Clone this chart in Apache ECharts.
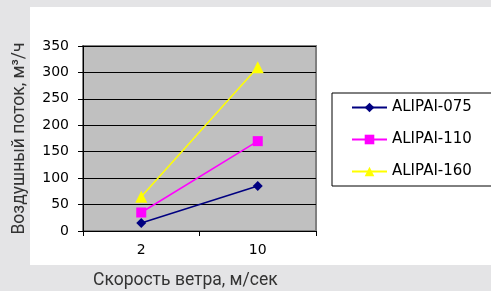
<!DOCTYPE html>
<html><head><meta charset="utf-8">
<script src="https://cdn.jsdelivr.net/npm/echarts@6/dist/echarts.min.js"></script>
<style>html,body{margin:0;padding:0;background:#e4e4e6;}#c{width:491px;height:291px;}</style>
</head><body><div id="c"></div>
<script>
const categories = ['2', '10'];
const seriesNames = ['ALIPAI-075', 'ALIPAI-110', 'ALIPAI-160'];
const alipai075 = [15, 85];
const alipai110 = [35, 170];
const alipai160 = [65, 310];
const yTicks = { min: 0, max: 350, interval: 50 };
const xTitle = 'Скорость ветра, м/сек';
const yTitle = 'Воздушный поток, м³/ч';

const colors = ['#000080', '#ff00ff', '#ffff00'];
const symbols = ['diamond', 'rect', 'triangle'];
const symbolSizes = [10, 10, 12];
const values = [alipai075, alipai110, alipai160];
const chart = echarts.init(document.getElementById('c'));
const tickFont = 'DejaVu Sans';
chart.setOption({
  backgroundColor: '#e4e4e6',
  animation: false,
  graphic: [
    { type: 'rect', z: -10, shape: { x: 30, y: 7, width: 461, height: 258 }, style: { fill: '#ffffff' } },
    { type: 'text', left: 93, top: 272, style: { text: xTitle, font: '17.5px Roboto', fill: '#333333' } }
  ],
  grid: { left: 83, top: 46, width: 233, height: 185, show: true, backgroundColor: '#c0c0c0', borderColor: '#808080', borderWidth: 2 },
  legend: {
    orient: 'vertical', left: 332, top: 93,
    backgroundColor: '#ffffff', borderColor: '#000000', borderWidth: 1, borderRadius: 0,
    padding: [7, 21, 7, 19], itemWidth: 35, itemHeight: 12, itemGap: 17,
    textStyle: { fontFamily: tickFont, fontSize: 15, color: '#000' },
    data: seriesNames
  },
  xAxis: {
    type: 'category', data: categories, boundaryGap: true,
    axisLine: { lineStyle: { color: '#000', width: 1 } },
    axisTick: { show: true, length: 5, lineStyle: { color: '#000' } },
    axisLabel: { margin: 12, fontFamily: tickFont, fontSize: 14, color: '#000' },
    splitLine: { show: false }
  },
  yAxis: {
    type: 'value', min: yTicks.min, max: yTicks.max, interval: yTicks.interval,
    name: yTitle, nameLocation: 'middle', nameGap: 54,
    nameTextStyle: { fontFamily: 'Roboto', fontSize: 17.5, color: '#333' },
    axisLine: { show: true, lineStyle: { color: '#000' } },
    axisTick: { show: true, length: 5, lineStyle: { color: '#000' } },
    axisLabel: { margin: 14, fontFamily: tickFont, fontSize: 14, color: '#000' },
    splitLine: { show: true, lineStyle: { color: '#000', width: 1 } }
  },
  series: seriesNames.map((n, i) => ({
    name: n, type: 'line', data: values[i],
    symbol: symbols[i], symbolSize: symbolSizes[i], showSymbol: true,
    itemStyle: { color: colors[i] },
    lineStyle: { color: colors[i], width: 1.5 }
  }))
});
</script></body></html>
